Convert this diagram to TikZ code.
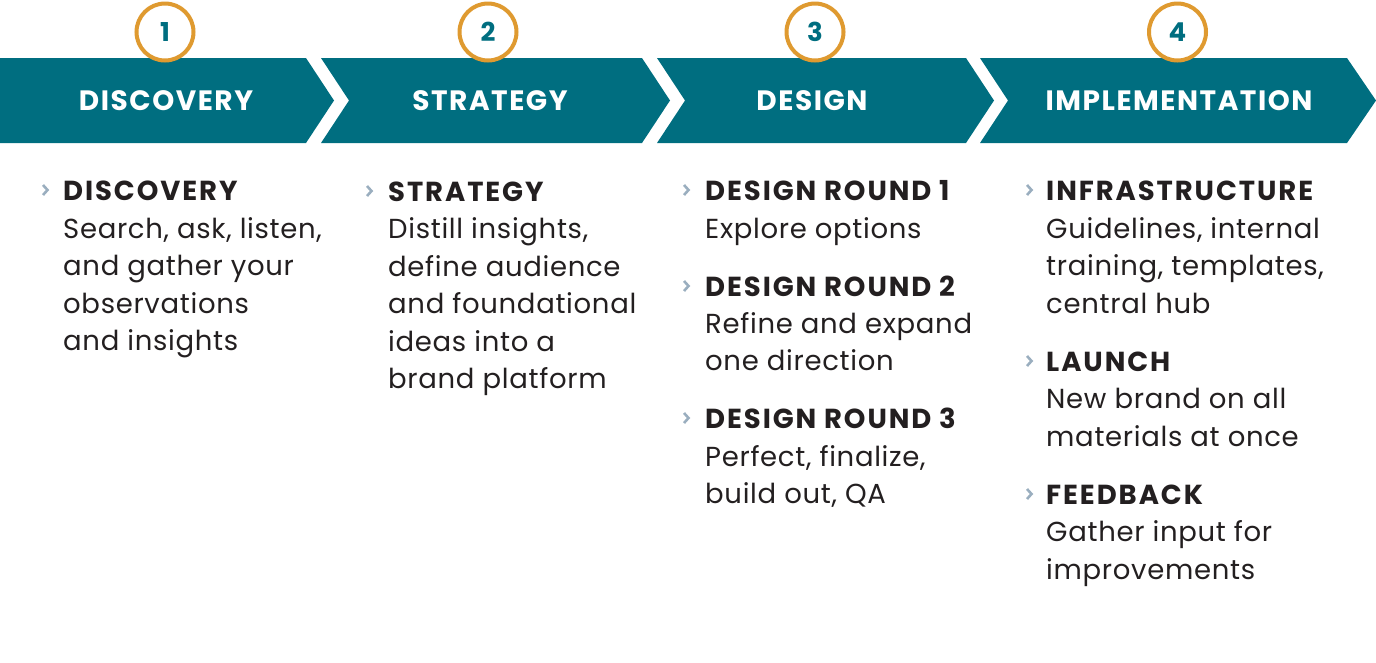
\documentclass[tikz,border=0pt]{standalone}
\usepackage{fontspec}
\setmainfont{Poppins}
\definecolor{teal}{HTML}{006E80}
\definecolor{ring}{HTML}{DF9A30}
\definecolor{ink}{HTML}{231F20}
\definecolor{bul}{HTML}{9AAEBF}
\begin{document}
\begin{tikzpicture}[x=1pt,y=-1pt,
  band/.style={fill=teal,draw=none},
  numring/.style={circle,draw=ring,line width=4pt,fill=white,minimum size=57pt,inner sep=0pt,
     text=teal,font=\fontsize{26}{26}\selectfont\bfseries},
  bandtitle/.style={anchor=base,text=white,inner sep=0pt,font=\fontsize{28}{28}\selectfont\bfseries\addfontfeature{LetterSpace=5.5}},
  head/.style={anchor=base west,text=ink,inner sep=0pt,font=\fontsize{27.5}{27.5}\selectfont\bfseries\addfontfeature{LetterSpace=7}},
  body/.style={anchor=base west,text=ink,inner sep=0pt,font=\fontsize{27.5}{27.5}\selectfont\addfontfeature{LetterSpace=2.5}},
  bullet/.style={draw=bul,line width=2.6pt,line cap=butt,line join=miter}
]
\useasboundingbox (0,0) rectangle (1376,662);
% chevrons
\path[band] (0,58) -- (306,58) -- (334,100.5) -- (306,143) -- (0,143) -- cycle;
\path[band] (321,58) -- (642,58) -- (670,100.5) -- (642,143) -- (321,143) -- (349,100.5) -- cycle;
\path[band] (657,58) -- (966,58) -- (994,100.5) -- (966,143) -- (657,143) -- (685,100.5) -- cycle;
\path[band] (980,58) -- (1347,58) -- (1376,100.5) -- (1347,143) -- (980,143) -- (1008,100.5) -- cycle;
% titles
\node[bandtitle] (t1) at (166,110) {DISCOVERY};
\node[bandtitle] (t2) at (490,110) {STRATEGY};
\node[bandtitle] (t3) at (812,110) {DESIGN};
\node[bandtitle] (t4) at (1179,110) {IMPLEMENTATION};
% rings
\node[numring] (n1) at (165,32) {1};
\node[numring] (n2) at (488,32) {2};
\node[numring] (n3) at (815,32) {3};
\node[numring] (n4) at (1177.5,32) {4};
% column 1
\draw[bullet] (43,185) -- (47.5,190) -- (43,195);
\node[head] (c1h) at (63,200) {DISCOVERY};
\node[body] (c1a) at (63,238) {Search, ask, listen,};
\node[body] (c1b) at (63,275.5) {and gather your};
\node[body] (c1c) at (63,313) {observations};
\node[body] (c1d) at (63,350.5) {and insights};
% column 2
\draw[bullet] (367,186) -- (371.5,191) -- (367,196);
\node[head] (c2h) at (388,201) {STRATEGY};
\node[body] (c2a) at (388,238.5) {Distill insights,};
\node[body] (c2b) at (388,276) {define audience};
\node[body] (c2c) at (388,313.5) {and foundational};
\node[body] (c2d) at (388,351) {ideas into a};
\node[body] (c2e) at (388,388.5) {brand platform};
% column 3
\draw[bullet] (684,185) -- (688.5,190) -- (684,195);
\node[head] (c3h1) at (705,200) {DESIGN ROUND 1};
\node[body] (c3a) at (705,238) {Explore options};
\draw[bullet] (684,281) -- (688.5,286) -- (684,291);
\node[head] (c3h2) at (705,296) {DESIGN ROUND 2};
\node[body] (c3b) at (705,333) {Refine and expand};
\node[body] (c3c) at (705,370.5) {one direction};
\draw[bullet] (684,413) -- (688.5,418) -- (684,423);
\node[head] (c3h3) at (705,428) {DESIGN ROUND 3};
\node[body] (c3d) at (705,466) {Perfect, finalize,};
\node[body] (c3e) at (705,503.5) {build out, QA};
% column 4
\draw[bullet] (1027,185) -- (1031.5,190) -- (1027,195);
\node[head] (c4h1) at (1046,200) {INFRASTRUCTURE};
\node[body] (c4a) at (1046,238) {Guidelines, internal};
\node[body] (c4b) at (1046,275.5) {training, templates,};
\node[body] (c4c) at (1046,313) {central hub};
\draw[bullet] (1027,356) -- (1031.5,361) -- (1027,366);
\node[head] (c4h2) at (1046,371) {LAUNCH};
\node[body] (c4d) at (1046,408.5) {New brand on all};
\node[body] (c4e) at (1046,446) {materials at once};
\draw[bullet] (1027,489) -- (1031.5,494) -- (1027,499);
\node[head] (c4h3) at (1046,504) {FEEDBACK};
\node[body] (c4f) at (1046,541.5) {Gather input for};
\node[body] (c4g) at (1046,579) {improvements};
\end{tikzpicture}
\end{document}
